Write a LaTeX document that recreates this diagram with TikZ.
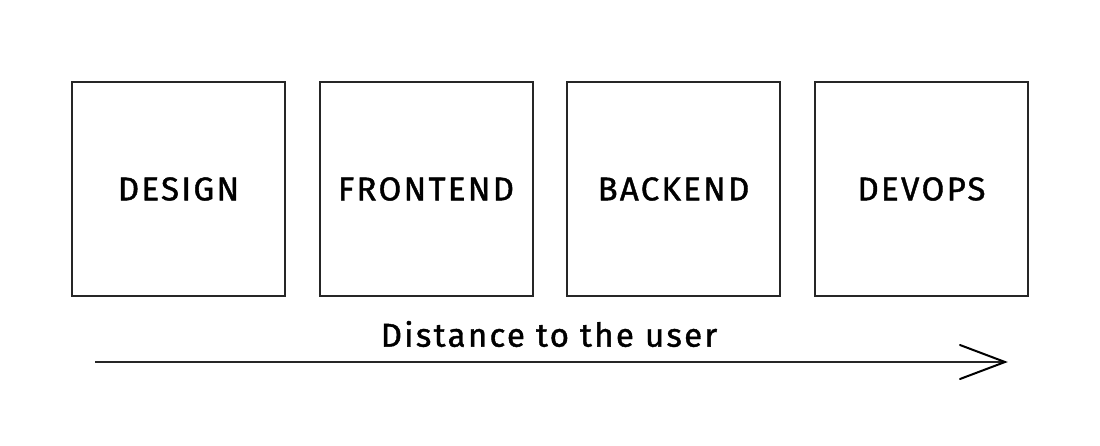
\documentclass[tikz,border=0pt]{standalone}
\usepackage{fontspec}
\setmainfont{Fira Sans}[LetterSpace=7,FakeBold=1.2]
\usetikzlibrary{calc}
\tikzset{
  box/.style={draw=black!85, line width=2pt, minimum width=213pt, minimum height=214pt, inner sep=0pt, font=\fontsize{33}{38}\selectfont},
  lbl/.style={font=\fontsize{33}{38}\selectfont, inner sep=0pt},
  axis/.style={draw=black!85, line width=2pt},
  head/.style={draw=black, line width=2pt, line cap=round, line join=miter}
}
\begin{document}
\begin{tikzpicture}[x=1pt,y=-1pt]
\useasboundingbox (0,0) rectangle (1100,445);
\node[box] (design) at (178.5,189) {DESIGN};
\node[box] (frontend) at (426,189) {FRONTEND};
\node[box] (backend) at (673.5,189) {BACKEND};
\node[box] (devops) at (921.5,189) {DEVOPS};
\coordinate (s) at (95,362);
\coordinate (e) at (1005,362);
\node[lbl] (label) at (549,334) {Distance to the user};
\draw[axis] (s) -- (e);
\draw[head] ($(e)+(-45,-17)$) -- (e) -- ($(e)+(-45,17)$);
\end{tikzpicture}
\end{document}
